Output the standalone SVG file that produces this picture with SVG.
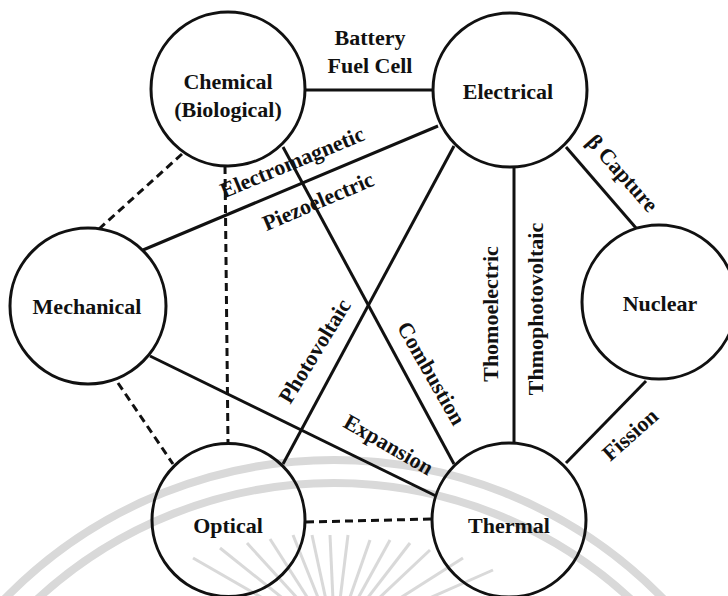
<svg xmlns="http://www.w3.org/2000/svg" width="728" height="596" viewBox="0 0 728 596">
<style>
.wm{fill:none;stroke:#d9d9d9;}
.node{fill:none;stroke:#111;stroke-width:3;}
.edge{stroke:#111;stroke-width:3;fill:none;}
.dash{stroke-dasharray:8 5;}
text{font-family:"Liberation Serif","Times New Roman",serif;font-weight:bold;font-size:22px;fill:#111;}
.c{text-anchor:middle;}
</style>
<rect width="728" height="596" fill="#fff"/>
<g id="watermark" class="wm">
<circle cx="334" cy="920" r="460" stroke-width="8"/>
<circle cx="334" cy="920" r="437" stroke-width="8"/>
<g stroke-width="3">
<line x1="193" y1="558" x2="266" y2="600"/>
<line x1="220" y1="548" x2="285" y2="600"/>
<line x1="247" y1="543" x2="299" y2="600"/>
<line x1="270" y1="539" x2="309" y2="600"/>
<line x1="293" y1="535" x2="319" y2="600"/>
<line x1="312" y1="535" x2="326" y2="600"/>
<line x1="330" y1="535" x2="333" y2="600"/>
<line x1="348" y1="535" x2="340" y2="600"/>
<line x1="370" y1="540" x2="349" y2="600"/>
<line x1="390" y1="540" x2="357" y2="600"/>
<line x1="410" y1="543" x2="366" y2="600"/>
<line x1="430" y1="550" x2="377" y2="600"/>
<line x1="463" y1="558" x2="397" y2="600"/>
<line x1="493" y1="570" x2="425" y2="600"/>
</g>
</g>
<g id="connectors">
<line class="edge" x1="305" y1="90" x2="433" y2="90"/>
<line class="edge" x1="143" y1="250" x2="438" y2="126"/>
<line class="edge" x1="283" y1="147" x2="454" y2="464"/>
<line class="edge" x1="454" y1="146" x2="283" y2="464"/>
<line class="edge" x1="514" y1="167" x2="514" y2="443"/>
<line class="edge" x1="566" y1="147" x2="636" y2="228"/>
<line class="edge" x1="646" y1="381" x2="566" y2="463"/>
<line class="edge" x1="150" y1="356" x2="436" y2="496"/>
<line class="edge dash" x1="182" y1="154" x2="99" y2="229"/>
<line class="edge dash" x1="225" y1="166" x2="228" y2="443"/>
<line class="edge dash" x1="118" y1="383" x2="173" y2="464"/>
<line class="edge dash" x1="306" y1="522" x2="432" y2="519"/>
<text class="c" x="370" y="45">Battery</text>
<text class="c" x="370" y="73">Fuel Cell</text>
<text class="c" transform="translate(295,169) rotate(-22.5)">Electromagnetic</text>
<text class="c" transform="translate(321,208) rotate(-23)">Piezoelectric</text>
<text class="c" transform="translate(321,355) rotate(-58.5)">Photovoltaic</text>
<text class="c" transform="translate(425,377) rotate(60.3)">Combustion</text>
<text class="c" transform="translate(385,451) rotate(30)">Expansion</text>
<text class="c" transform="translate(498,314) rotate(-90)">Thomoelectric</text>
<text class="c" transform="translate(543,309) rotate(-90)">Thmophotovoltaic</text>
<text class="c" transform="translate(617,178) rotate(48.5)">β Capture</text>
<text class="c" transform="translate(635,440) rotate(-41.6)">Fission</text>
</g>
<g id="chemical">
<circle class="node" cx="228" cy="89" r="77"/>
<text class="c" x="228" y="89">Chemical</text>
<text class="c" x="228" y="117">(Biological)</text>
</g>
<g id="electrical">
<circle class="node" cx="510" cy="90" r="77"/>
<text class="c" x="508" y="99">Electrical</text>
</g>
<g id="mechanical">
<circle class="node" cx="88" cy="306" r="78"/>
<text class="c" x="87" y="314">Mechanical</text>
</g>
<g id="nuclear">
<circle class="node" cx="659" cy="302" r="77"/>
<text class="c" x="660" y="311">Nuclear</text>
</g>
<g id="optical">
<circle class="node" cx="228.5" cy="520" r="76.5"/>
<text class="c" x="228" y="533">Optical</text>
</g>
<g id="thermal">
<circle class="node" cx="509" cy="520" r="77"/>
<text class="c" x="509" y="533">Thermal</text>
</g>
</svg>
